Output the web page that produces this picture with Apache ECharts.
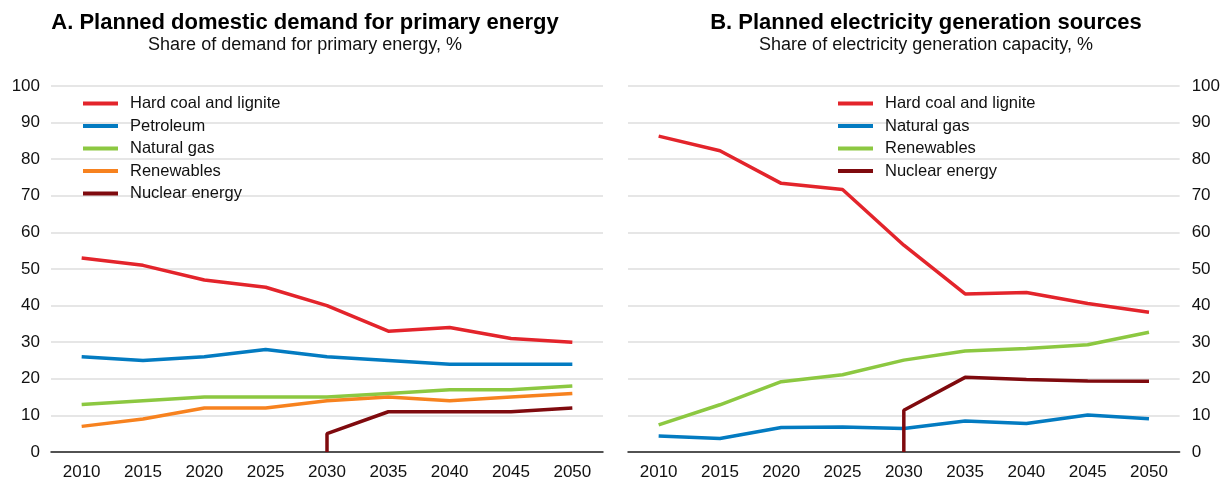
<!DOCTYPE html>
<html>
<head>
<meta charset="utf-8">
<script src="https://cdn.jsdelivr.net/npm/echarts@6/dist/echarts.min.js"></script>
<style>
  html, body { margin: 0; padding: 0; background: #fff; }
  #chart { width: 1223px; height: 482px; }
</style>
</head>
<body>
<div id="chart"></div>
<script>
// Years shared by both panels
const years = ["2010", "2015", "2020", "2025", "2030", "2035", "2040", "2045", "2050"];
const yTicks = [0, 10, 20, 30, 40, 50, 60, 70, 80, 90, 100];

// Panel A: share of demand for primary energy, %
const demandCoal = [53, 51, 47, 45, 40, 33, 34, 31, 30];
const demandPetroleum = [26, 25, 26, 28, 26, 25, 24, 24, 24];
const demandGas = [13, 14, 15, 15, 15, 16, 17, 17, 18];
const demandRenewables = [7, 9, 12, 12, 14, 15, 14, 15, 16];
// nuclear starts in 2030 (drawn up from zero)
const demandNuclear = [["2030", 0], ["2030", 5], ["2035", 11], ["2040", 11], ["2045", 11], ["2050", 12]];

// Panel B: share of electricity generation capacity, %
const genCoal = [86.3, 82.3, 73.4, 71.7, 56.5, 43.2, 43.6, 40.6, 38.2];
const genGas = [4.4, 3.7, 6.7, 6.8, 6.4, 8.5, 7.8, 10.1, 9.1];
const genRenewables = [7.4, 12.9, 19.2, 21.1, 25.1, 27.6, 28.3, 29.3, 32.7];
const genNuclear = [["2030", 0], ["2030", 11.4], ["2035", 20.4], ["2040", 19.8], ["2045", 19.4], ["2050", 19.3]];

const RED = "#e3242b", BLUE = "#037bc1", GREEN = "#8cc841", ORANGE = "#f7821f", DARKRED = "#7f0a0e";
const FONT = "Liberation Sans, Arial, sans-serif";

const chart = echarts.init(document.getElementById("chart"), null, { renderer: "canvas" });

function xAxisFor(gridIndex) {
    return {
        type: "category",
        gridIndex: gridIndex,
        data: years,
        boundaryGap: true,
        axisLine: { lineStyle: { color: "#222", width: 1.5 } },
        axisTick: { alignWithLabel: true, inside: true, length: 5, lineStyle: { color: "#222", width: 1 } },
        axisLabel: { color: "#111", fontSize: 17, fontFamily: FONT, margin: 12 },
        splitLine: { show: false }
    };
}

function yAxisFor(gridIndex, pos) {
    return {
        type: "value",
        gridIndex: gridIndex,
        position: pos,
        min: 0,
        max: 100,
        interval: 10,
        axisLine: { show: false },
        axisTick: { show: false },
        axisLabel: { color: "#111", fontSize: 17, fontFamily: FONT, margin: pos === "left" ? 11 : 12 },
        splitLine: { lineStyle: { color: "#dedede", width: 1.5 } }
    };
}

function lineSeries(name, data, color, idx) {
    return {
        name: name,
        type: "line",
        xAxisIndex: idx,
        yAxisIndex: idx,
        data: data,
        symbol: "none",
        smooth: false,
        lineStyle: { color: color, width: 3.5 },
        itemStyle: { color: color },
        z: 3
    };
}

const legendText = { color: "#111", fontSize: 16.5, fontFamily: FONT, padding: [0, 0, 0, 7] };

option = {
    animation: false,
    backgroundColor: "#fff",
    title: [
        {
            text: "A. Planned domestic demand for primary energy",
            subtext: "Share of demand for primary energy, %",
            left: 300, top: 7, textAlign: "center", itemGap: 2,
            textStyle: { fontSize: 22, fontWeight: "bold", color: "#000", fontFamily: FONT },
            subtextStyle: { fontSize: 18, color: "#111", fontFamily: FONT }
        },
        {
            text: "B. Planned electricity generation sources",
            subtext: "Share of electricity generation capacity, %",
            left: 921, top: 7, textAlign: "center", itemGap: 2,
            textStyle: { fontSize: 22, fontWeight: "bold", color: "#000", fontFamily: FONT },
            subtextStyle: { fontSize: 18, color: "#111", fontFamily: FONT }
        }
    ],
    grid: [
        { left: 51, right: 620, top: 86, bottom: 30 },
        { left: 628, right: 43, top: 86, bottom: 30 }
    ],
    legend: [
        {
            orient: "vertical", left: 78, top: 90, itemWidth: 35, itemHeight: 4, itemGap: 5.5,
            icon: "rect", textStyle: legendText,
            data: ["Hard coal and lignite", "Petroleum", "Natural gas", "Renewables", "Nuclear energy"].map((n, i) => ({
                name: n, itemStyle: { color: [RED, BLUE, GREEN, ORANGE, DARKRED][i] }
            }))
        },
        {
            orient: "vertical", left: 833, top: 90, itemWidth: 35, itemHeight: 4, itemGap: 5.5,
            icon: "rect", textStyle: legendText,
            data: ["Hard coal and lignite", "Natural gas", "Renewables", "Nuclear energy"].map((n, i) => ({
                name: n, itemStyle: { color: [RED, BLUE, GREEN, DARKRED][i] }
            }))
        }
    ],
    xAxis: [xAxisFor(0), xAxisFor(1)],
    yAxis: [yAxisFor(0, "left"), yAxisFor(1, "right")],
    series: [
        lineSeries("Hard coal and lignite", demandCoal, RED, 0),
        lineSeries("Petroleum", demandPetroleum, BLUE, 0),
        lineSeries("Natural gas", demandGas, GREEN, 0),
        lineSeries("Renewables", demandRenewables, ORANGE, 0),
        lineSeries("Nuclear energy", demandNuclear, DARKRED, 0),
        lineSeries("Hard coal and lignite", genCoal, RED, 1),
        lineSeries("Natural gas", genGas, BLUE, 1),
        lineSeries("Renewables", genRenewables, GREEN, 1),
        lineSeries("Nuclear energy", genNuclear, DARKRED, 1)
    ]
};

option && chart.setOption(option);
</script>
</body>
</html>
